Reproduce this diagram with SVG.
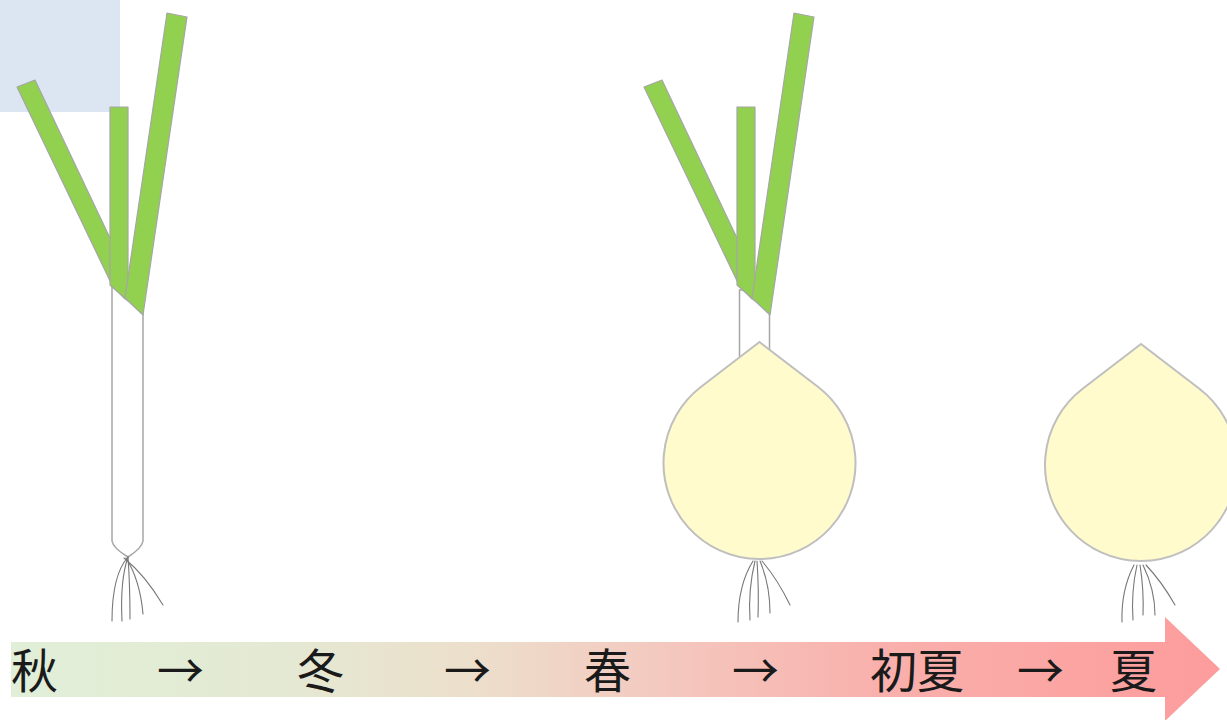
<svg xmlns="http://www.w3.org/2000/svg" width="1227" height="720" viewBox="0 0 1227 720">
  <defs>
    <linearGradient id="season" x1="11" y1="0" x2="1220" y2="0" gradientUnits="userSpaceOnUse">
      <stop offset="0" stop-color="#e1efd8"/>
      <stop offset="0.22" stop-color="#e4e9d3"/>
      <stop offset="0.38" stop-color="#ecdfcb"/>
      <stop offset="0.52" stop-color="#f3cbc1"/>
      <stop offset="0.72" stop-color="#f9b0ac"/>
      <stop offset="1" stop-color="#fd9c9c"/>
    </linearGradient>
    <!-- onion bulb: circle r=96 with tangent lines up to a point -->
    <path id="bulb" d="M0,-121 L-58.4,-76.2 A96,96 0 1 0 58.4,-76.2 Z"/>
  </defs>
  <style>
    .leaf { fill: #92d050; stroke: #a6a6a6; stroke-width: 1.2; stroke-linejoin: round; }
    .stem { fill: #ffffff; stroke: #a6a6a6; stroke-width: 1.5; }
    .bulb { fill: #fffbcc; stroke: #bfbfbf; stroke-width: 2; }
    .root { fill: none; stroke: #777; stroke-width: 1.1; stroke-linecap: round; }
    .label { font-family: "Noto Sans CJK JP", "Noto Sans CJK SC", sans-serif; font-size: 47px; fill: #1a1a1a; }
  </style>

  <!-- pale blue block in the corner -->
  <rect x="0" y="0" width="120" height="112" fill="#dce6f2"/>

  <!-- autumn: green onion seedling -->
  <g id="autumn-seedling">
    <path class="stem" d="M112,280 V541 Q113,548 128,557 Q142,548 143,541 V300 Z"/>
    <g class="root">
      <path d="M128,557 Q112,575 112,621"/>
      <path d="M128,557 Q120,580 122,621"/>
      <path d="M128,557 Q130,585 130,619"/>
      <path d="M126,558 Q140,580 143,614"/>
      <path d="M124,558 Q145,575 163,605"/>
    </g>
    <polygon class="leaf" points="17,87 35,80 128,276 125,299 112,285"/>
    <polygon class="leaf" points="110,107 128,107 128,301 110,285"/>
    <polygon class="leaf" points="167,13 187,17 143,315 125,298"/>
  </g>

  <!-- spring: growing bulb with leaves -->
  <g id="spring-onion">
    <rect class="stem" x="739.5" y="290" width="30" height="80"/>
    <g transform="translate(627,0)" >
      <polygon class="leaf" points="17,87 35,80 128,276 125,299 112,285"/>
      <polygon class="leaf" points="110,107 128,107 128,301 110,285"/>
      <polygon class="leaf" points="167,13 187,17 143,315 125,298"/>
    </g>
    <g class="root">
      <path d="M753,561 Q738,585 738,622"/>
      <path d="M755,561 Q748,590 750,620"/>
      <path d="M757,561 Q759,590 758,617"/>
      <path d="M760,561 Q770,585 770,613"/>
      <path d="M762,561 Q778,580 790,605"/>
    </g>
    <use href="#bulb" class="bulb" transform="translate(759.5,463)"/>
  </g>

  <!-- early summer: ripe bulb -->
  <g id="summer-onion">
    <g class="root">
      <path d="M1134,565 Q1121,590 1122,622"/>
      <path d="M1137,565 Q1131,592 1133,620"/>
      <path d="M1140,565 Q1144,590 1143,615"/>
      <path d="M1143,565 Q1155,590 1155,615"/>
      <path d="M1146,565 Q1162,582 1175,605"/>
    </g>
    <use href="#bulb" class="bulb" transform="translate(1141,465)"/>
  </g>

  <!-- season timeline arrow -->
  <g id="timeline">
    <path d="M11,642 H1165 V617 L1220,669 L1165,721 V697 H11 Z" fill="url(#season)"/>
    <text class="label" x="11" y="688">秋</text>
    <text class="label" x="157" y="688">→</text>
    <text class="label" x="297" y="688">冬</text>
    <text class="label" x="444" y="688">→</text>
    <text class="label" x="584" y="688">春</text>
    <text class="label" x="732" y="688">→</text>
    <text class="label" x="870" y="688">初夏</text>
    <text class="label" x="1017" y="688">→</text>
    <text class="label" x="1110" y="688">夏</text>
  </g>
</svg>
